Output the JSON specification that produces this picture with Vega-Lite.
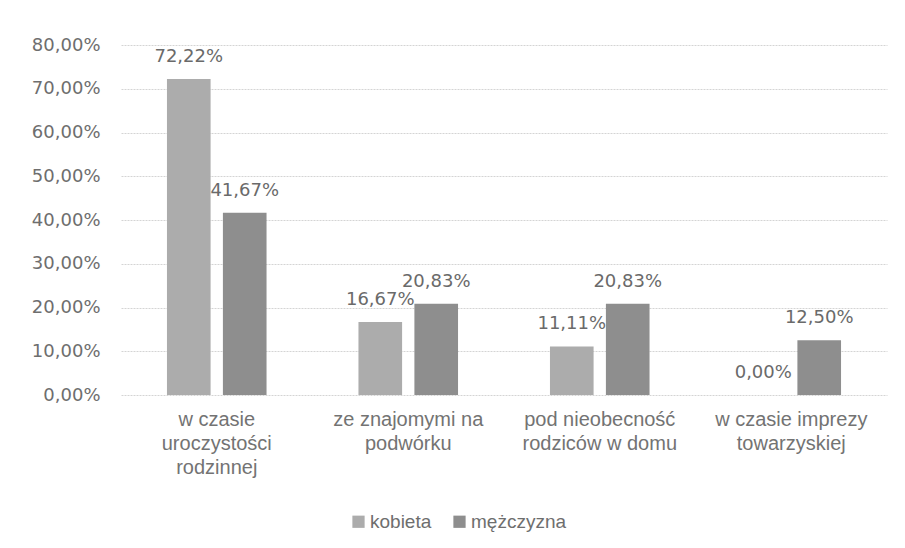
{
  "$schema": "https://vega.github.io/schema/vega-lite/v6.json",
  "width": 766,
  "height": 350,
  "autosize": {"type": "none"},
  "padding": {"left": 121, "top": 45, "right": 18, "bottom": 153},
  "background": "white",
  "data": {
    "values": [
      {"kategoria": "w czasie|uroczystości|rodzinnej", "plec": "kobieta", "wartosc": 0.7222},
      {"kategoria": "w czasie|uroczystości|rodzinnej", "plec": "mężczyzna", "wartosc": 0.4167},
      {"kategoria": "ze znajomymi na|podwórku", "plec": "kobieta", "wartosc": 0.1667},
      {"kategoria": "ze znajomymi na|podwórku", "plec": "mężczyzna", "wartosc": 0.2083},
      {"kategoria": "pod nieobecność|rodziców w domu", "plec": "kobieta", "wartosc": 0.1111},
      {"kategoria": "pod nieobecność|rodziców w domu", "plec": "mężczyzna", "wartosc": 0.2083},
      {"kategoria": "w czasie imprezy|towarzyskiej", "plec": "kobieta", "wartosc": 0.0},
      {"kategoria": "w czasie imprezy|towarzyskiej", "plec": "mężczyzna", "wartosc": 0.125}
    ]
  },
  "transform": [
    {"calculate": "replace(format(datum.wartosc, '.2%'), '.', ',')", "as": "etykieta"}
  ],
  "encoding": {
    "x": {
      "field": "kategoria",
      "type": "nominal",
      "sort": null,
      "scale": {"paddingInner": 0.48, "paddingOuter": 0.24},
      "axis": {
        "title": null,
        "labelAngle": 0,
        "domain": false,
        "ticks": false,
        "labelExpr": "split(datum.label, '|')",
        "labelFont": "Liberation Sans Narrow, Liberation Sans, sans-serif",
        "labelFontSize": 20,
        "labelLineHeight": 24,
        "labelColor": "#737373",
        "labelPadding": 14,
        "labelBaseline": "top"
      }
    },
    "xOffset": {"field": "plec", "type": "nominal", "scale": {"paddingInner": 0.22}},
    "y": {
      "field": "wartosc",
      "type": "quantitative",
      "scale": {"domain": [0, 0.8], "nice": false},
      "axis": {
        "title": null,
        "values": [0, 0.1, 0.2, 0.3, 0.4, 0.5, 0.6, 0.7, 0.8],
        "labelOverlap": false,
        "domain": false,
        "ticks": false,
        "labelExpr": "replace(format(datum.value, '.2%'), '.', ',')",
        "labelFont": "DejaVu Sans, sans-serif",
        "labelFontSize": 18,
        "labelColor": "#6e6e6e",
        "labelPadding": 21,
        "gridColor": "#d4d4d4",
        "gridWidth": 1,
        "gridDash": [2, 1]
      }
    }
  },
  "layer": [
    {
      "mark": {"type": "bar"},
      "encoding": {
        "color": {
          "field": "plec",
          "type": "nominal",
          "scale": {"domain": ["kobieta", "mężczyzna"], "range": ["#acacac", "#8e8e8e"]},
          "legend": {
            "title": null,
            "orient": "none",
            "direction": "horizontal",
            "legendX": 228,
            "legendY": 467,
            "symbolType": "square",
            "symbolSize": 150,
            "symbolStrokeWidth": 0,
            "labelFont": "Liberation Sans, sans-serif",
            "labelFontSize": 19,
            "labelColor": "#6e6e6e",
            "labelOffset": 2,
            "columnPadding": 18
          }
        }
      }
    },
    {
      "mark": {
        "type": "text",
        "baseline": "middle",
        "align": "center",
        "dy": -22,
        "font": "DejaVu Sans, sans-serif",
        "fontSize": 18,
        "color": "#6a6a6a"
      },
      "encoding": {
        "text": {"field": "etykieta"}
      }
    }
  ],
  "config": {
    "view": {"stroke": null}
  }
}
